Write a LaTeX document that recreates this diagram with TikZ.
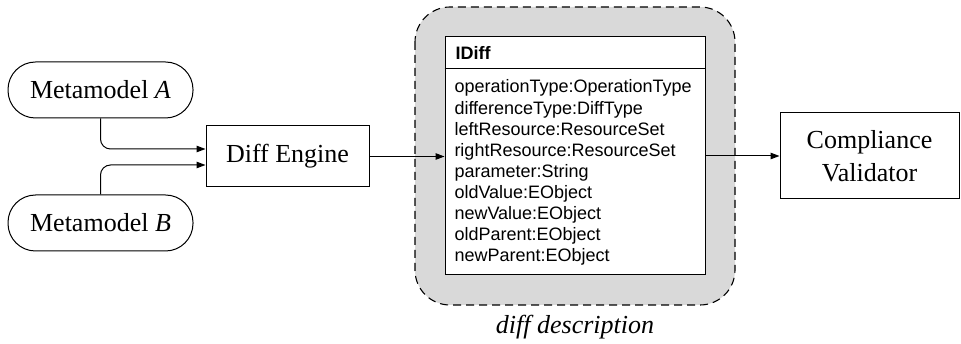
\documentclass[tikz,border=0pt]{standalone}
\usepackage{fontspec}
\setmainfont{Liberation Serif}
\newfontfamily\umlfont{Liberation Sans}
\usetikzlibrary{calc,arrows.meta}

\tikzset{
  every picture/.style={line width=1pt},
  serif/.style={font=\fontsize{26}{33}\selectfont},
  pill/.style={draw, rectangle, rounded corners=27.5pt, minimum width=185pt,
    minimum height=56pt, inner sep=0pt, serif},
  procbox/.style={draw, rectangle, inner sep=0pt, serif, align=center},
  arr/.style={-{Triangle[length=9pt,width=6.5pt]}},
  attr/.style={anchor=base west, inner sep=0pt, font=\umlfont\fontsize{18}{21}\selectfont},
  region/.style={draw, dashed, dash pattern=on 8pt off 5pt, fill=gray!30,
    rounded corners=35pt, line width=1.1pt},
}

\begin{document}
\begin{tikzpicture}[x=1pt, y=-1pt]
  \useasboundingbox (0,0) rectangle (961,344);

  % grey dashed region around the difference class
  \path[region] (415,7) rectangle (735,305);

  % input metamodels
  \node[pill] (mA) at (100.5,90) {Metamodel \textit{A}};
  \node[pill] (mB) at (100.5,223) {Metamodel \textit{B}};

  % processing steps
  \node[procbox, minimum width=163pt, minimum height=61pt] (engine) at (287.5,156.5) {Diff Engine};
  \node[procbox, minimum width=179pt, minimum height=86pt] (validator) at (869.5,156) {Compliance\\Validator};

  % IDiff class box
  \node[draw, fill=white, rectangle, minimum width=260pt, minimum height=238pt, inner sep=0pt] (idiff) at (575,156) {};
  \draw ($(idiff.north west)+(0,32.5)$) -- ($(idiff.north east)+(0,32.5)$);
  \node[attr, font=\umlfont\bfseries\fontsize{18}{21}\selectfont] (title) at (455,60) {IDiff};
  \foreach \t [count=\i] in {operationType:OperationType, differenceType:DiffType,
      leftResource:ResourceSet, rightResource:ResourceSet, parameter:String,
      oldValue:EObject, newValue:EObject, oldParent:EObject, newParent:EObject}
    \node[attr] (attr\i) at (454,{93+21.1*(\i-1)}) {\t};

  % caption of the region
  \node[anchor=base, inner sep=0pt, serif] (caption) at (575,334) {\textit{diff description}};

  % connectors
  \draw[arr, rounded corners=10pt] (mA.south) |- ($(engine.west)+(0,-7.5)$);
  \draw[arr, rounded corners=10pt] (mB.north) |- ($(engine.west)+(0,8.5)$);
  \draw[arr] (engine.east) -- (engine.east -| idiff.west);
  \draw[arr] (idiff.east |- validator.west) -- (validator.west);
\end{tikzpicture}
\end{document}
